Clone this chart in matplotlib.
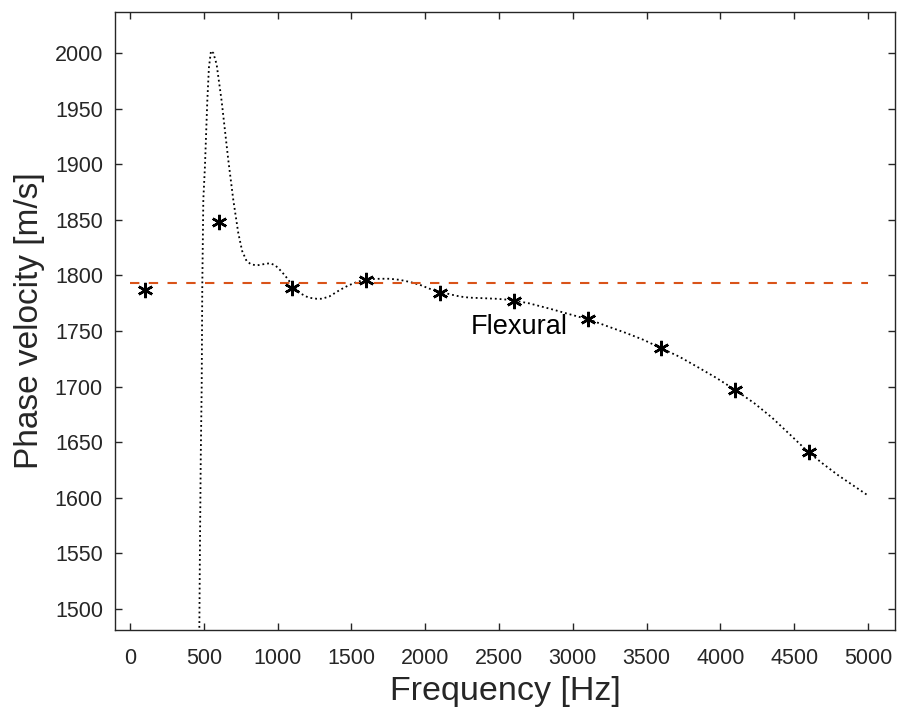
import matplotlib
matplotlib.use('Agg')
import matplotlib.pyplot as plt

plt.rcParams['font.family'] = ['Liberation Sans', 'DejaVu Sans']

# measured points (asterisks)
f_pts = [100, 600, 1100, 1600, 2100, 2600, 3100, 3600, 4100, 4600]
v_pts = [1787, 1848, 1789, 1796, 1784, 1777, 1761, 1735, 1697, 1641]

# dispersion curve (dotted)
f_curve = [462, 470, 474, 480, 486, 490, 497, 508, 524, 535, 549, 565, 587, 621,
           666, 700, 734, 760, 790, 820, 858, 900, 949, 985, 1016, 1050, 1084,
           1152, 1210, 1265, 1300, 1350, 1423, 1480, 1536, 1600, 1694, 1760,
           1829, 1900, 1965, 2030, 2100, 2168, 2236, 2300, 2393, 2480, 2575,
           2700, 2846, 2980, 3117, 3240, 3365, 3480, 3591, 3720, 3840, 3970,
           4100, 4230, 4350, 4470, 4596, 4700, 4800, 4900, 5000]
v_curve = [1440, 1481, 1553, 1640, 1700, 1790, 1868, 1898, 1957, 1987, 2002, 2000,
           1990, 1957, 1904, 1868, 1838, 1822, 1813, 1810, 1809, 1810, 1811,
           1809, 1805, 1800, 1794, 1784, 1780, 1779, 1779, 1781, 1787, 1791,
           1794, 1796.5, 1797, 1797, 1796, 1794, 1791.5, 1788, 1785.5, 1783,
           1781, 1780, 1779.5, 1779, 1778, 1775, 1770, 1765, 1760, 1754, 1748,
           1742, 1735, 1727, 1718, 1708, 1697, 1685, 1672, 1657, 1641, 1630,
           1620, 1611, 1602]

# reference velocity (dashed)
f_ref = [0, 5000]
v_ref = [1793, 1793]

fig = plt.figure(figsize=(8.98, 7.13), dpi=100)
ax = fig.add_axes([0.1286, 0.1164, 0.8681, 0.8668])

ax.plot(f_curve, v_curve, color='black', linestyle=':', linewidth=1.3)
ax.plot(f_ref, v_ref, color='#D95319', linewidth=1.5, dashes=(4.5, 4.5))
ax.plot(f_pts, v_pts, linestyle='none', marker=(6, 2, 0), markersize=11,
        markeredgewidth=1.8, color='black')

ax.text(2308, 1747, 'Flexural', fontsize=19.5, ha='left', va='baseline')

ax.set_xlim(-98, 5183)
ax.set_ylim(1481, 2037)
ax.set_xticks(range(0, 5001, 500))
ax.set_yticks(range(1500, 2001, 50))

ax.tick_params(direction='in', top=True, right=True, length=5, width=1,
               colors='#262626', labelsize=15.5)
ax.tick_params(axis='x', pad=13)
ax.tick_params(axis='y', pad=9)
for s in ax.spines.values():
    s.set_color('#262626')
    s.set_linewidth(1)

ax.set_xlabel('Frequency [Hz]', fontsize=24.5, color='#262626', labelpad=5)
ax.set_ylabel('Phase velocity [m/s]', fontsize=24, color='#262626', labelpad=7)

fig.savefig('out.png', dpi=100)
